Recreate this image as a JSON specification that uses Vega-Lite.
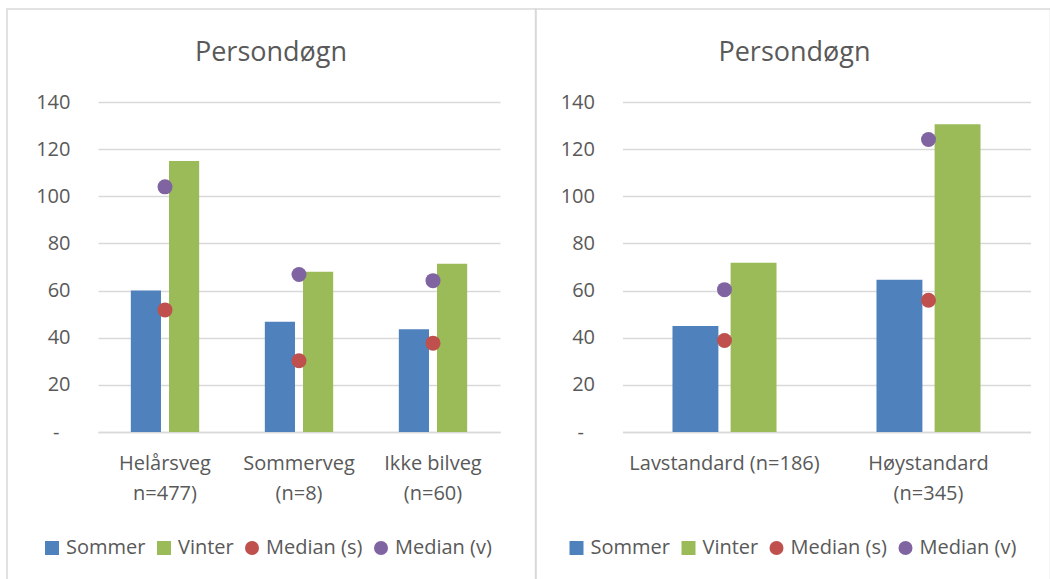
{
  "$schema": "https://vega.github.io/schema/vega-lite/v6.json",
  "background": "white",
  "padding": {"left": 7, "top": 9, "right": 0, "bottom": 0},
  "config": {
    "font": "Open Sans",
    "view": {"stroke": null},
    "axis": {"labelFont": "Open Sans", "labelColor": "#595959", "labelFontSize": 20, "ticks": false, "title": null},
    "legend": {
      "orient": "none", "direction": "horizontal",
      "title": null, "labelFont": "Open Sans", "labelFontSize": 20, "labelColor": "#595959",
      "symbolSize": 196, "symbolType": "square", "symbolStrokeWidth": 0, "labelOffset": 4, "columnPadding": 8,
      "labelLimit": 300
    }
  },
  "datasets": {
    "venstre": [
      {"kategori": "Helårsveg|n=477)", "serie": "Sommer", "verdi": 60.0},
      {"kategori": "Helårsveg|n=477)", "serie": "Vinter", "verdi": 115.0},
      {"kategori": "Helårsveg|n=477)", "serie": "Median (s)", "verdi": 51.8},
      {"kategori": "Helårsveg|n=477)", "serie": "Median (v)", "verdi": 104.0},
      {"kategori": "Sommerveg|(n=8)", "serie": "Sommer", "verdi": 46.8},
      {"kategori": "Sommerveg|(n=8)", "serie": "Vinter", "verdi": 68.0},
      {"kategori": "Sommerveg|(n=8)", "serie": "Median (s)", "verdi": 30.2},
      {"kategori": "Sommerveg|(n=8)", "serie": "Median (v)", "verdi": 66.8},
      {"kategori": "Ikke bilveg|(n=60)", "serie": "Sommer", "verdi": 43.6},
      {"kategori": "Ikke bilveg|(n=60)", "serie": "Vinter", "verdi": 71.4},
      {"kategori": "Ikke bilveg|(n=60)", "serie": "Median (s)", "verdi": 37.7},
      {"kategori": "Ikke bilveg|(n=60)", "serie": "Median (v)", "verdi": 64.2}
    ],
    "hoyre": [
      {"kategori": "Lavstandard (n=186)", "serie": "Sommer", "verdi": 45.0},
      {"kategori": "Lavstandard (n=186)", "serie": "Vinter", "verdi": 71.8},
      {"kategori": "Lavstandard (n=186)", "serie": "Median (s)", "verdi": 38.8},
      {"kategori": "Lavstandard (n=186)", "serie": "Median (v)", "verdi": 60.4},
      {"kategori": "Høystandard|(n=345)", "serie": "Sommer", "verdi": 64.6},
      {"kategori": "Høystandard|(n=345)", "serie": "Vinter", "verdi": 130.6},
      {"kategori": "Høystandard|(n=345)", "serie": "Median (s)", "verdi": 55.9},
      {"kategori": "Høystandard|(n=345)", "serie": "Median (v)", "verdi": 124.1}
    ]
  },
  "spacing": -1.5,
  "resolve": {"scale": {"x": "independent", "xOffset": "independent", "y": "independent", "color": "independent", "stroke": "independent"}, "legend": {"color": "independent", "stroke": "independent"}},
  "hconcat": [
    {
      "width": 402, "height": 330,
      "title": {"text": "Persondøgn", "font": "Open Sans", "fontSize": 27, "fontWeight": "normal", "color": "#595959", "anchor": "middle", "frame": "group", "dx": -28, "baseline": "alphabetic", "offset": -79},
      "data": {"name": "venstre"},
      "encoding": {
        "x": {"field": "kategori", "type": "nominal", "sort": null,
          "scale": {"domain": ["Helårsveg|n=477)", "Sommerveg|(n=8)", "Ikke bilveg|(n=60)"], "paddingInner": 0.49, "paddingOuter": 0.245},
          "axis": {"labelExpr": "split(datum.label, '|')", "labelAngle": 0, "labelPadding": 21, "labelLineHeight": 30, "labelLimit": 300, "labelOverlap": false, "domainColor": "#d9d9d9", "domainWidth": 1.5, "labelBaseline": "top"}},
        "y": {"field": "verdi", "type": "quantitative",
          "scale": {"domain": [0, 140], "nice": false},
          "axis": {"values": [0, 20, 40, 60, 80, 100, 120, 140], "labelExpr": "datum.value == 0 ? '-' : datum.label", "domain": false, "gridColor": "#d9d9d9", "gridWidth": 1.5,
            "labelPadding": {"condition": {"test": "datum.value == 0", "value": 39}, "value": 28}}},
        "color": {"field": "serie", "type": "nominal",
          "scale": {"domain": ["Sommer", "Vinter", "Median (s)", "Median (v)"], "range": ["#4f81bd", "#9bbb59", "#c0504d", "#8064a2"]},
          "legend": {"legendX": -56, "legendY": 436, "columns": 4, "encode": {"symbols": {"update": {"shape": {"signal": "datum.value == 'Sommer' || datum.value == 'Vinter' ? 'square' : 'circle'"}}}}}}
      },
      "layer": [
        {"transform": [{"filter": "datum.serie == 'Sommer' || datum.serie == 'Vinter'"}],
         "mark": {"type": "bar", "strokeWidth": 0},
         "encoding": {
           "xOffset": {"field": "serie", "type": "nominal", "scale": {"domain": ["Sommer", "Vinter"], "paddingInner": 0.21, "paddingOuter": 0}},
           "stroke": {"field": "verdi", "type": "quantitative", "scale": {"range": ["rgba(255,255,255,0)", "rgba(255,255,255,0)"]},
             "legend": {"orient": "none", "legendX": -91, "legendY": -93, "direction": "vertical", "gradientLength": 572, "gradientThickness": 529, "labelExpr": "''", "labelOpacity": 0, "labelOffset": 0, "labelFontSize": 1, "title": null, "padding": 0, "gradientStrokeColor": "#d9d9d9", "gradientStrokeWidth": 1.5}}
         }},
        {"transform": [{"filter": "datum.serie == 'Median (s)' || datum.serie == 'Median (v)'"}],
         "mark": {"type": "point", "filled": true, "opacity": 1, "size": 225, "shape": "circle"}}
      ]
    },
    {
      "width": 408, "height": 330,
      "title": {"text": "Persondøgn", "font": "Open Sans", "fontSize": 27, "fontWeight": "normal", "color": "#595959", "anchor": "middle", "frame": "group", "dx": -32, "baseline": "alphabetic", "offset": -79},
      "data": {"name": "hoyre"},
      "encoding": {
        "x": {"field": "kategori", "type": "nominal", "sort": null,
          "scale": {"domain": ["Lavstandard (n=186)", "Høystandard|(n=345)"], "paddingInner": 0.49, "paddingOuter": 0.245},
          "axis": {"labelExpr": "split(datum.label, '|')", "labelAngle": 0, "labelPadding": 21, "labelLineHeight": 30, "labelLimit": 300, "labelOverlap": false, "domainColor": "#d9d9d9", "domainWidth": 1.5, "labelBaseline": "top"}},
        "y": {"field": "verdi", "type": "quantitative",
          "scale": {"domain": [0, 140], "nice": false},
          "axis": {"values": [0, 20, 40, 60, 80, 100, 120, 140], "labelExpr": "datum.value == 0 ? '-' : datum.label", "domain": false, "gridColor": "#d9d9d9", "gridWidth": 1.5,
            "labelPadding": {"condition": {"test": "datum.value == 0", "value": 39}, "value": 28}}},
        "color": {"field": "serie", "type": "nominal",
          "scale": {"domain": ["Sommer", "Vinter", "Median (s)", "Median (v)"], "range": ["#4f81bd", "#9bbb59", "#c0504d", "#8064a2"]},
          "legend": {"legendX": -56, "legendY": 436, "columns": 4, "encode": {"symbols": {"update": {"shape": {"signal": "datum.value == 'Sommer' || datum.value == 'Vinter' ? 'square' : 'circle'"}}}}}}
      },
      "layer": [
        {"transform": [{"filter": "datum.serie == 'Sommer' || datum.serie == 'Vinter'"}],
         "mark": {"type": "bar", "strokeWidth": 0},
         "encoding": {
           "xOffset": {"field": "serie", "type": "nominal", "scale": {"domain": ["Sommer", "Vinter"], "paddingInner": 0.21, "paddingOuter": 0}},
           "stroke": {"field": "verdi", "type": "quantitative", "scale": {"range": ["rgba(255,255,255,0)", "rgba(255,255,255,0)"]},
             "legend": {"orient": "none", "legendX": -87, "legendY": -93, "direction": "vertical", "gradientLength": 572, "gradientThickness": 515, "labelExpr": "''", "labelOpacity": 0, "labelOffset": 0, "labelFontSize": 1, "title": null, "padding": 0, "gradientStrokeColor": "#d9d9d9", "gradientStrokeWidth": 1.5}}
         }},
        {"transform": [{"filter": "datum.serie == 'Median (s)' || datum.serie == 'Median (v)'"}],
         "mark": {"type": "point", "filled": true, "opacity": 1, "size": 225, "shape": "circle"}}
      ]
    }
  ]
}
